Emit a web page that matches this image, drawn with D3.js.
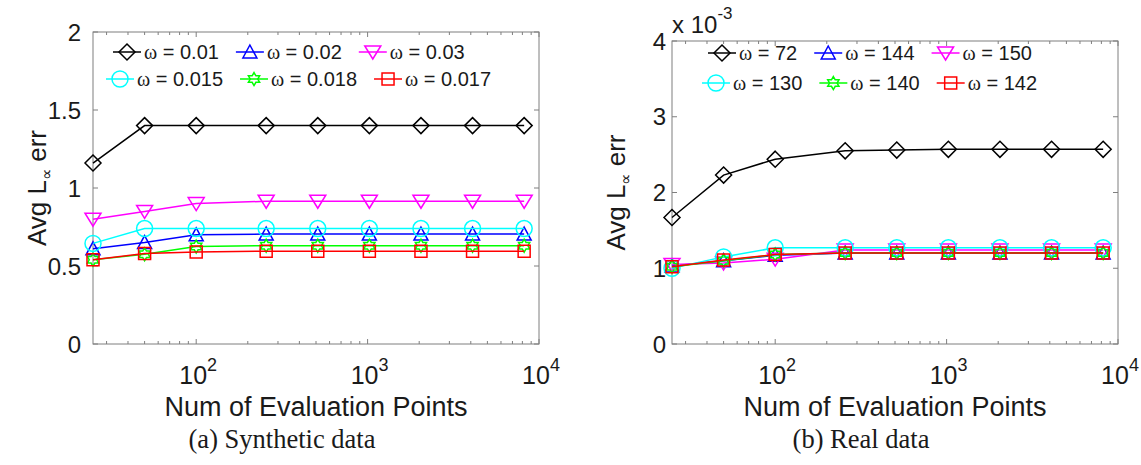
<!DOCTYPE html>
<html>
<head>
<meta charset="utf-8">
<script src="https://cdn.jsdelivr.net/npm/d3@7"></script>
<style>
  body { margin: 0; background: #fff; }
  svg { display: block; }
</style>
</head>
<body>
<div id="wrapper"></div>
<script>
// x positions (number of evaluation points)
const evalPoints = [25, 50, 100, 256, 512, 1024, 2048, 4096, 8192]
const xTickValues = [100, 1000, 10000]
const xTickExp = ["2", "3", "4"]

// (a) synthetic data
const synthOmega = ["0.01", "0.02", "0.03", "0.015", "0.018", "0.017"]
const synthW001 = [1.16, 1.40, 1.40, 1.40, 1.40, 1.40, 1.40, 1.40, 1.40]
const synthW002 = [0.61, 0.65, 0.70, 0.705, 0.705, 0.705, 0.705, 0.705, 0.705]
const synthW003 = [0.80, 0.85, 0.90, 0.915, 0.915, 0.915, 0.915, 0.915, 0.915]
const synthW0015 = [0.645, 0.74, 0.74, 0.74, 0.74, 0.74, 0.74, 0.74, 0.74]
const synthW0018 = [0.54, 0.575, 0.625, 0.63, 0.63, 0.63, 0.63, 0.63, 0.63]
const synthW0017 = [0.54, 0.58, 0.59, 0.595, 0.595, 0.595, 0.595, 0.595, 0.595]
const synthYTicks = [0, 0.5, 1, 1.5, 2]

// (b) real data, in units of 1e-3
const realOmega = ["72", "144", "150", "130", "140", "142"]
const realW72 = [1.67, 2.23, 2.44, 2.55, 2.56, 2.57, 2.57, 2.57, 2.57]
const realW144 = [1.03, 1.10, 1.17, 1.20, 1.20, 1.20, 1.20, 1.20, 1.20]
const realW150 = [1.05, 1.07, 1.12, 1.24, 1.24, 1.24, 1.24, 1.24, 1.24]
const realW130 = [1.00, 1.15, 1.27, 1.27, 1.27, 1.27, 1.27, 1.27, 1.27]
const realW140 = [1.02, 1.10, 1.18, 1.20, 1.20, 1.20, 1.20, 1.20, 1.20]
const realW142 = [1.02, 1.11, 1.18, 1.20, 1.20, 1.20, 1.20, 1.20, 1.20]
const realYTicks = [0, 1, 2, 3, 4]

// series styles (same order in both panels)
const seriesStyle = [
    { color: "#000000", marker: "diamond" },
    { color: "#0000ff", marker: "triUp" },
    { color: "#ff00ff", marker: "triDown" },
    { color: "#00ffff", marker: "circle" },
    { color: "#00ff00", marker: "hexagram" },
    { color: "#ff0000", marker: "square" },
]

const markerPath = {
    diamond: "M0,-8L8,0L0,8L-8,0Z",
    triUp: "M0,-7L7,6L-7,6Z",
    triDown: "M0,7L8,-6L-8,-6Z",
    circle: "M8,0A8,8 0 1,1 -8,0A8,8 0 1,1 8,0Z",
    square: "M-6,-6H6V6H-6Z",
    hexagram: (() => {
        const pts = d3.range(12).map(i => {
            const r = i % 2 === 0 ? 6.5 : 6.5 / Math.sqrt(3)
            const a = -Math.PI / 2 + i * Math.PI / 6
            return [r * Math.cos(a), r * Math.sin(a)]
        })
        return "M" + pts.map(p => p.join(",")).join("L") + "Z"
    })(),
}

const panels = [
    {
        left: 93, right: 539, top: 32, bottom: 344,
        yDomain: [0, 2], yTicks: synthYTicks, yFormat: d3.format("~g"), yGap: 12,
        omega: synthOmega,
        series: [synthW001, synthW002, synthW003, synthW0015, synthW0018, synthW0017],
        legendStart: [20, 13], legendRowY: [52, 79],
        caption: "(a) Synthetic data", exponent: false,
    },
    {
        left: 672, right: 1118, top: 41, bottom: 344,
        yDomain: [0, 4], yTicks: realYTicks, yFormat: d3.format("d"), yGap: 6,
        omega: realOmega,
        series: [realW72, realW144, realW150, realW130, realW140, realW142],
        legendStart: [36, 30], legendRowY: [53, 83],
        caption: "(b) Real data", exponent: true,
    },
]

const sans = "'Liberation Sans', Arial, sans-serif"
const axisGrey = "#7f7f7f"
const ink = "#1a1a1a"

const svg = d3.select("#wrapper")
    .append("svg")
    .attr("width", 1141)
    .attr("height", 465)
    .style("background", "#fff")

panels.forEach(p => {
    const x = d3.scaleLog().domain([25, 10000]).range([p.left, p.right])
    const y = d3.scaleLinear().domain(p.yDomain).range([p.bottom, p.top])
    const g = svg.append("g")

    // box
    g.append("rect")
        .attr("x", p.left).attr("y", p.top)
        .attr("width", p.right - p.left).attr("height", p.bottom - p.top)
        .attr("fill", "none").attr("stroke", axisGrey).attr("stroke-width", 1)

    // log minor + major ticks, bottom and top, pointing inward
    const minor = []
    for (let e = 1; e < 4; e++) {
        for (let m = 1; m < 10; m++) {
            const v = m * Math.pow(10, e)
            if (v >= 25 && v <= 10000) minor.push(v)
        }
    }
    minor.push(10000)
    g.selectAll(".xtick")
        .data(minor)
        .join("path")
        .attr("d", d => {
            const len = xTickValues.includes(d) ? 5 : 3
            const px = x(d)
            return `M${px},${p.bottom}v${-len}M${px},${p.top}v${len}`
        })
        .attr("stroke", axisGrey).attr("stroke-width", 1)

    // x tick labels 10^k
    const xl = g.selectAll(".xlab")
        .data(xTickValues)
        .join("text")
        .attr("x", d => x(d) + 2)
        .attr("y", 384)
        .attr("text-anchor", "middle")
        .attr("font-family", sans)
        .attr("font-size", 25)
        .attr("fill", ink)
    xl.append("tspan").text("10")
    xl.append("tspan")
        .attr("dy", -13)
        .attr("font-size", 18)
        .text((d, i) => xTickExp[i])

    // y ticks left & right
    g.selectAll(".ytick")
        .data(p.yTicks)
        .join("path")
        .attr("d", d => `M${p.left},${y(d)}h5M${p.right},${y(d)}h-5`)
        .attr("stroke", axisGrey).attr("stroke-width", 1)

    g.selectAll(".ylab")
        .data(p.yTicks)
        .join("text")
        .attr("x", p.left - p.yGap)
        .attr("y", d => y(d))
        .attr("dy", "0.36em")
        .attr("text-anchor", "end")
        .attr("font-family", sans)
        .attr("font-size", 24)
        .attr("fill", ink)
        .text(d => p.yFormat(d))

    if (p.exponent) {
        const ex = g.append("text")
            .attr("x", p.left)
            .attr("y", 33)
            .attr("font-family", sans)
            .attr("font-size", 24)
            .attr("fill", ink)
        ex.append("tspan").text("x 10")
        ex.append("tspan").attr("dy", -14).attr("font-size", 17).text("-3")
    }

    // axis labels
    g.append("text")
        .attr("x", (p.left + p.right) / 2)
        .attr("y", 416)
        .attr("text-anchor", "middle")
        .attr("font-family", sans)
        .attr("font-size", 27)
        .attr("fill", ink)
        .text("Num of Evaluation Points")

    const yl = g.append("text")
        .attr("transform", `translate(${p.left - 47},${(p.top + p.bottom) / 2}) rotate(-90)`)
        .attr("text-anchor", "middle")
        .attr("font-family", sans)
        .attr("font-size", 26)
        .attr("fill", ink)
    yl.append("tspan").text("Avg L")
    yl.append("tspan").attr("font-size", 16).attr("dy", 6).text("∝")
    yl.append("tspan").attr("dy", -6).text(" err")

    // caption
    g.append("text")
        .attr("x", (p.left + p.right) / 2 - 34)
        .attr("y", 448)
        .attr("text-anchor", "middle")
        .attr("font-family", "'Liberation Serif', serif")
        .attr("font-size", 26.5)
        .attr("fill", ink)
        .text(p.caption)

    // series
    const line = d3.line()
        .x((d, i) => x(evalPoints[i]))
        .y(d => y(d))

    p.series.forEach((vals, si) => {
        const st = seriesStyle[si]
        const sg = g.append("g")
        sg.append("path")
            .attr("d", line(vals))
            .attr("fill", "none")
            .attr("stroke", st.color)
            .attr("stroke-width", 1.5)
        sg.selectAll("path.mk")
            .data(vals)
            .join("path")
            .attr("class", "mk")
            .attr("transform", (d, i) => `translate(${x(evalPoints[i])},${y(d)})`)
            .attr("d", markerPath[st.marker])
            .attr("fill", "none")
            .attr("stroke", st.color)
            .attr("stroke-width", 1.5)
    })

    // legend: two rows of three, flowing by text width
    const rows = [[0, 1, 2], [3, 4, 5]]
    rows.forEach((row, ri) => {
        let cx = p.left + p.legendStart[ri]
        const cy = p.legendRowY[ri]
        row.forEach(si => {
            const st = seriesStyle[si]
            const lg = g.append("g")
            lg.append("path")
                .attr("d", `M${cx},${cy}h28`)
                .attr("stroke", st.color).attr("stroke-width", 1.5)
            lg.append("path")
                .attr("transform", `translate(${cx + 14},${cy})`)
                .attr("d", markerPath[st.marker])
                .attr("fill", "none")
                .attr("stroke", st.color).attr("stroke-width", 1.5)
            const t = lg.append("text")
                .attr("x", cx + 31)
                .attr("y", cy)
                .attr("dy", "0.36em")
                .attr("font-family", sans)
                .attr("font-size", 20)
                .attr("fill", ink)
            t.append("tspan").attr("font-family", "'Liberation Serif', serif").attr("font-size", 20).text("ω")
            t.append("tspan").text(" = " + p.omega[si])
            cx += 31 + t.node().getComputedTextLength() + 17
        })
    })
})
</script>
</body>
</html>
